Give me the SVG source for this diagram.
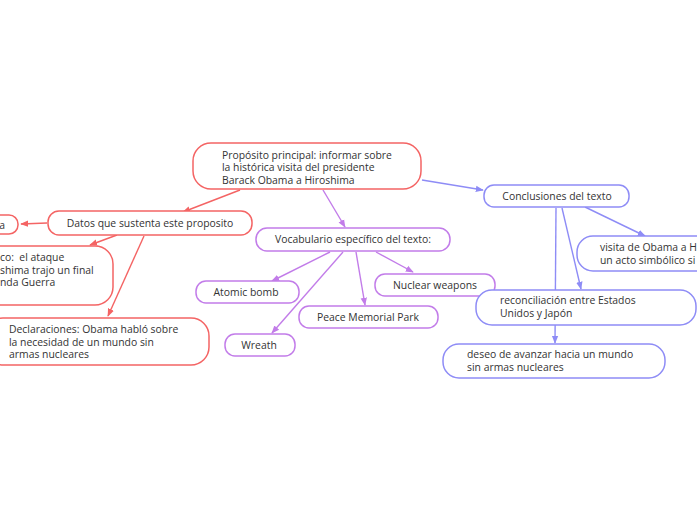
<svg xmlns="http://www.w3.org/2000/svg" width="697" height="520" viewBox="0 0 697 520">
<defs>
<style>
.n{fill:#fff;stroke-width:1.5}
.r{stroke:#f46464}
.p{stroke:#c27ce9}
.b{stroke:#8e8cf6}
text{font-family:"Open Sans","Liberation Sans",sans-serif;font-size:10.4px;fill:#333}
.c{text-anchor:middle}
.e{text-anchor:end}
.l{fill:none;stroke-width:1.4}
</style>
<marker id="mr" viewBox="0 0 10 10" refX="9" refY="5" markerWidth="8" markerHeight="8" markerUnits="userSpaceOnUse" orient="auto"><path d="M0,1 L10,5 L0,9 z" fill="#f46464"/></marker>
<marker id="mp" viewBox="0 0 10 10" refX="9" refY="5" markerWidth="8" markerHeight="8" markerUnits="userSpaceOnUse" orient="auto"><path d="M0,1 L10,5 L0,9 z" fill="#c27ce9"/></marker>
<marker id="mb" viewBox="0 0 10 10" refX="9" refY="5" markerWidth="8" markerHeight="8" markerUnits="userSpaceOnUse" orient="auto"><path d="M0,1 L10,5 L0,9 z" fill="#8e8cf6"/></marker>
</defs>
<rect width="697" height="520" fill="#fff"/>
<g id="connectors">
<line class="l r" x1="240" y1="190" x2="183" y2="212" marker-end="url(#mr)"/>
<line class="l r" x1="47" y1="223" x2="21" y2="224" marker-end="url(#mr)"/>
<line class="l r" x1="117" y1="235" x2="90" y2="245" marker-end="url(#mr)"/>
<line class="l r" x1="144" y1="236" x2="108" y2="316" marker-end="url(#mr)"/>
<line class="l p" x1="323" y1="190" x2="345" y2="227" marker-end="url(#mp)"/>
<line class="l b" x1="422" y1="180" x2="483" y2="190" marker-end="url(#mb)"/>
<line class="l p" x1="330" y1="252" x2="272" y2="281" marker-end="url(#mp)"/>
<line class="l p" x1="343" y1="252" x2="272" y2="333" marker-end="url(#mp)"/>
<line class="l p" x1="356" y1="252" x2="365" y2="305" marker-end="url(#mp)"/>
<line class="l p" x1="376" y1="252" x2="413" y2="272" marker-end="url(#mp)"/>
<line class="l b" x1="585" y1="207" x2="645" y2="236" marker-end="url(#mb)"/>
<line class="l b" x1="562" y1="208" x2="581" y2="289" marker-end="url(#mb)"/>
<line class="l b" x1="556" y1="208" x2="555" y2="343" marker-end="url(#mb)"/>
</g>
<g id="main">
<rect class="n r" x="193" y="143" width="228" height="46" rx="18"/>
<text x="222" y="158.5">Propósito principal: informar sobre</text>
<text x="222" y="171">la histórica visita del presidente</text>
<text x="222" y="183.5">Barack Obama a Hiroshima</text>
</g>
<g id="datos">
<rect class="n r" x="48" y="211" width="204" height="24" rx="11"/>
<text class="c" x="150" y="227">Datos que sustenta este proposito</text>
</g>
<g id="left-cut">
<rect class="n r" x="-40" y="215" width="58" height="19" rx="9"/>
<text class="e" x="5" y="229">a</text>
</g>
<g id="ataque">
<rect class="n r" x="-60" y="246" width="173" height="59" rx="18"/>
<text x="0" y="261" xml:space="preserve">co:  el ataque</text>
<text x="0" y="273.5">shima trajo un final</text>
<text x="0" y="286">nda Guerra</text>
</g>
<g id="declaraciones">
<rect class="n r" x="-15" y="318" width="224" height="47" rx="18"/>
<text x="9" y="333">Declaraciones: Obama habló sobre</text>
<text x="9" y="345.5">la necesidad de un mundo sin</text>
<text x="9" y="358">armas nucleares</text>
</g>
<g id="vocabulario">
<rect class="n p" x="256" y="228" width="194" height="23" rx="11"/>
<text class="c" x="353" y="243">Vocabulario específico del texto:</text>
</g>
<g id="atomic">
<rect class="n p" x="196" y="281" width="103" height="22" rx="10"/>
<text class="c" x="246" y="296">Atomic bomb</text>
</g>
<g id="wreath">
<rect class="n p" x="225" y="334" width="70" height="22" rx="10"/>
<text class="c" x="259" y="349">Wreath</text>
</g>
<g id="peace">
<rect class="n p" x="299" y="306" width="139" height="22" rx="10"/>
<text class="c" x="368" y="321">Peace Memorial Park</text>
</g>
<g id="nuclear">
<rect class="n p" x="375" y="274" width="120" height="22" rx="10"/>
<text class="c" x="435" y="289">Nuclear weapons</text>
</g>
<g id="conclusiones">
<rect class="n b" x="484" y="185" width="145" height="22" rx="10"/>
<text class="c" x="557" y="200">Conclusiones del texto</text>
</g>
<g id="visita">
<rect class="n b" x="577" y="236" width="160" height="35" rx="16"/>
<text x="600" y="251">visita de Obama a H</text>
<text x="600" y="263.5">un acto simbólico si</text>
</g>
<g id="reconciliacion">
<rect class="n b" x="476" y="290" width="220" height="35" rx="16"/>
<text x="500" y="304">reconciliación entre Estados</text>
<text x="500" y="316.5">Unidos y Japón</text>
</g>
<g id="deseo">
<rect class="n b" x="443" y="344" width="222" height="34" rx="16"/>
<text x="467" y="358">deseo de avanzar hacia un mundo</text>
<text x="467" y="370.5">sin armas nucleares</text>
</g>
</svg>
